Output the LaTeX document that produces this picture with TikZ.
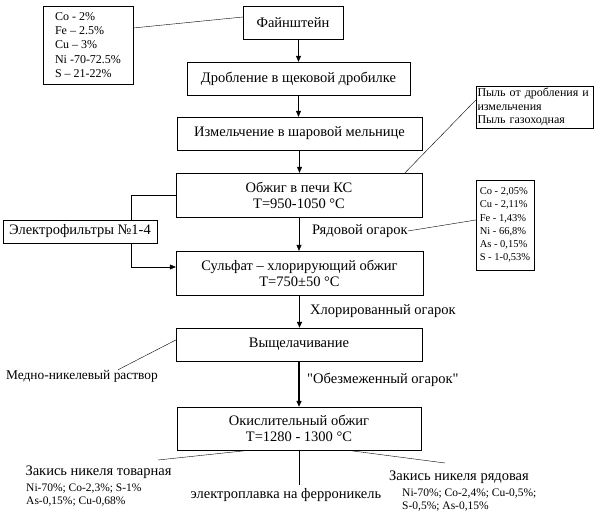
\documentclass[tikz,border=0pt]{standalone}
\usepackage{fontspec}
\setmainfont{Liberation Serif}[Ligatures=TeXOff]
\usetikzlibrary{arrows.meta}

\begin{document}
\begin{tikzpicture}[x=1pt,y=-1pt,
  proc/.style={draw,minimum height=33pt,inner sep=2pt,font=\fontsize{14.5}{16}\selectfont,align=center},
  txt/.style={inner sep=0pt,font=\fontsize{14.5}{16}\selectfont},
  sostav/.style={draw,align=left,inner sep=2pt,font=\fontsize{11}{13.5}\selectfont},
  small/.style={inner sep=0pt,align=left,font=\fontsize{11.5}{13}\selectfont},
  >={Triangle[length=6pt,width=5pt]}]

  \useasboundingbox (0,0) rectangle (605,517);

  % main chain
  \node [proc,minimum width=100pt] (faj) at (293,22.5) {Файнштейн};
  \node [proc,minimum width=223pt] (drob) at (298.5,78.5) {Дробление в щековой дробилке};
  \node [proc,minimum width=245pt] (izm) at (299.5,133.5) {Измельчение в шаровой мельнице};
  \node [proc,minimum width=246pt,minimum height=44pt] (obzh) at (299,195) {Обжиг в печи КС\\T=950-1050 °C};
  \node [proc,minimum width=247pt,minimum height=44pt] (sulf) at (299.5,273) {Сульфат – хлорирующий обжиг\\T=750±50 °C};
  \node [proc,minimum width=246pt] (vysh) at (299,344.5) {Выщелачивание};
  \node [proc,minimum width=244pt,minimum height=43pt] (okis) at (299,428.5) {Окислительный обжиг\\T=1280 - 1300 °C};

  % side boxes
  \node [sostav,minimum width=90pt,minimum height=78pt,font=\fontsize{12}{14.3}\selectfont] (comp1) at (88,45)
    {Co - 2\%\\Fe – 2.5\%\\Cu – 3\%\\Ni -70-72.5\%\\S – 21-22\%};
  \node [sostav,text width=114pt,minimum height=42pt,inner sep=1.5pt,font=\fontsize{12}{13.5}\selectfont] (dust) at (534.5,107)
    {Пыль от дробления и\\измельчения\\Пыль газоходная};
  \node [sostav,minimum width=58pt,minimum height=90pt,font=\fontsize{10.5}{13.3}\selectfont] (comp2) at (505,225)
    {Co - 2,05\%\\Cu - 2,11\%\\Fe - 1,43\%\\Ni - 66,8\%\\As - 0,15\%\\S - 1-0,53\%};
  \node [proc,minimum width=154pt,minimum height=23pt] (ef) at (80,231.5) {Электрофильтры №1-4};

  % labels
  \node [txt,anchor=west] (ryad) at (312,231) {Рядовой огарок};
  \node [txt,anchor=west] (hlor) at (310,311) {Хлорированный огарок};
  \node [txt,anchor=west] (obezm) at (307,380) {"Обезмеженный огарок"};
  \node [txt,font=\fontsize{13.4}{15}\selectfont] (med) at (82,376) {Медно-никелевый раствор};

  % products
  \node [txt] (tov) at (98.5,472) {Закись никеля товарная};
  \node [small,anchor=north west] (tovs) at (26,484) {Ni-70\%; Co-2,3\%; S-1\%\\As-0,15\%; Cu-0,68\%};
  \node [txt,inner sep=3pt] (epl) at (286,495) {электроплавка на ферроникель};
  \node [txt] (ryadn) at (459,477) {Закись никеля рядовая};
  \node [small,anchor=north west] (ryads) at (402,489) {Ni-70\%; Co-2,4\%; Cu-0,5\%;\\S-0,5\%; As-0,15\%};
  \coordinate (tovend) at (158,460);
  \coordinate (ryadend) at (445,463);

  % connectors
  \draw ([yshift=17pt]comp1.east) -- ([yshift=5.5pt]faj.west);
  \draw [->] (faj.south -| drob.north) -- (drob.north);
  \draw [->] (drob.south) -- (drob.south |- izm.north);
  \draw [->] (izm.south) -- (izm.south |- obzh.north);
  \draw [->] (obzh.south) -- (obzh.south |- sulf.north);
  \draw [->,line width=1.3pt] (sulf.south) -- (sulf.south |- vysh.north);
  \draw [->,line width=1.3pt] (vysh.south) -- (vysh.south |- okis.north);
  \draw ([yshift=7pt]dust.west) -- ([xshift=106pt]obzh.north);
  \draw (obzh.west) -| ([xshift=51pt]ef.north);
  \draw [->] ([xshift=51pt]ef.south) |- ([yshift=6pt]sulf.west);
  \draw (ryad.east) -- ([yshift=5pt]comp2.west);
  \draw ([yshift=4.5pt]vysh.west) -- ([xshift=36pt]med.north);
  \draw ([xshift=-49pt]okis.south) -- (tovend);
  \draw (okis.south) -- (okis.south |- epl.north);
  \draw ([xshift=48pt]okis.south) -- (ryadend);

\end{tikzpicture}
\end{document}
